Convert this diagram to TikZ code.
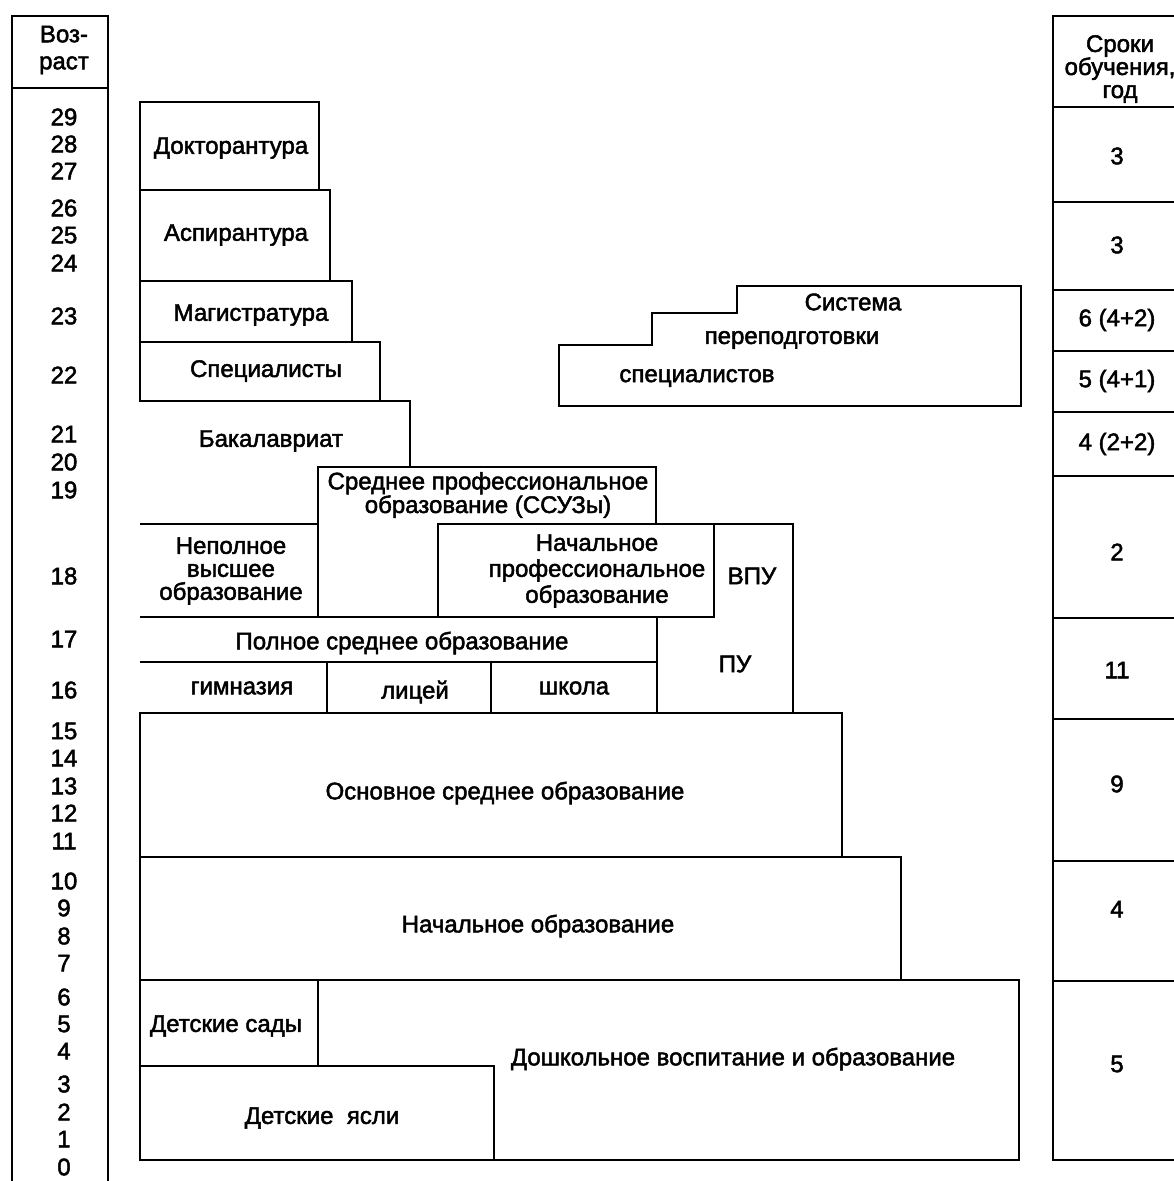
\documentclass[tikz,border=0pt]{standalone}
\usepackage{fontspec}
\setmainfont{Liberation Sans}[UprightFeatures={FakeBold=2}]
\usetikzlibrary{positioning}

\begin{document}
\begin{tikzpicture}[x=1pt, y=-1pt,
    frame/.style={line width=2.2pt, line join=miter},
    lbl/.style={font=\fontsize{24}{23}\selectfont, inner sep=0pt, align=center}
  ]
  \useasboundingbox (0,0) rectangle (1174,1181);
  \fill[white] (0,0) rectangle (1174,1181);

  % age column
  \draw[frame] (12,1195) -- (12,16) -- (108,16) -- (108,1195);
  \draw[frame] (12,88) -- (108,88);
  \node[lbl, font=\fontsize{24}{27}\selectfont] (agehead) at (64,50) {Воз-\\раст};
  \foreach \a/\y in {29/117,28/144,27/171,26/208,25/235,24/263,23/316,22/375,
                     21/434,20/462,19/490,18/576,17/639,16/690,15/731,14/758,
                     13/786,12/813,11/841,10/881,9/908,8/936,7/963,6/997,
                     5/1024,4/1051,3/1084,2/1112,1/1139,0/1167}
    \node[lbl] (age\a) at (64,\y) {\a};

  % higher education
  \draw[frame] (140,102) rectangle (319,190);
  \draw[frame] (140,190) rectangle (330,281);
  \draw[frame] (140,281) rectangle (352,342);
  \draw[frame] (140,342) rectangle (380,401);
  \draw[frame] (140,401) -- (410,401) -- (410,467);
  \draw[frame] (140,524) -- (318,524);
  \node[lbl] (doct) at (231,148) {Докторантура};
  \node[lbl] (asp)  at (236,235) {Аспирантура};
  \node[lbl] (mag)  at (251,315) {Магистратура};
  \node[lbl] (spec) at (266,371) {Специалисты};
  \node[lbl] (bak)  at (271,441) {Бакалавриат};
  \node[lbl] (nvo)  at (231,571) {Неполное\\высшее\\образование};

  % vocational education
  \draw[frame] (318,617) -- (318,467) -- (656,467) -- (656,524);
  \draw[frame] (438,524) rectangle (714,617);
  \draw[frame] (714,524) -- (793,524) -- (793,713);
  \draw[frame] (657,617) -- (657,713);
  \node[lbl, font=\fontsize{24}{20}\selectfont] (ssuz) at (488,495)
    {Среднее профессиональное\\образование (ССУЗы)};
  \node[lbl, font=\fontsize{24}{26}\selectfont] (npo) at (597,571)
    {Начальное\\профессиональное\\образование};
  \node[lbl] (vpu) at (752,576) {ВПУ};
  \node[lbl] (pu)  at (735,664) {ПУ};

  % secondary school
  \draw[frame] (140,617) -- (714,617);
  \draw[frame] (140,662) -- (657,662);
  \draw[frame] (327,662) -- (327,713);
  \draw[frame] (491,662) -- (491,713);
  \node[lbl] (full) at (402,643) {Полное среднее образование};
  \node[lbl] (gym)  at (242,688) {гимназия};
  \node[lbl] (lyc)  at (415,692) {лицей};
  \node[lbl] (sch)  at (574,688) {школа};
  \draw[frame] (140,713) rectangle (842,857);
  \node[lbl] (basic) at (505,793) {Основное среднее образование};
  \draw[frame] (140,857) rectangle (901,980);
  \node[lbl] (prim) at (538,926) {Начальное образование};

  % preschool
  \draw[frame] (140,980) rectangle (1019,1160);
  \draw[frame] (318,980) -- (318,1066);
  \draw[frame] (140,1066) -- (494,1066) -- (494,1160);
  \node[lbl] (kg)   at (226,1026) {Детские сады};
  \node[lbl] (nurs) at (322,1118) {Детские\ \ ясли};
  \node[lbl] (pre)  at (733,1059) {Дошкольное воспитание и образование};

  % retraining
  \draw[frame] (559,406) -- (559,345) -- (652,345) -- (652,313) -- (737,313)
    -- (737,286) -- (1021,286) -- (1021,406) -- cycle;
  \node[lbl] (sys1) at (853,302) {Система};
  \node[lbl] (sys2) at (792,340) {переподготовки};
  \node[lbl] (sys3) at (697,378) {специалистов};

  % duration column
  \draw[frame] (1195,16) -- (1053,16) -- (1053,1160) -- (1195,1160);
  \foreach \y in {107,202,290,351,412,476,618,719,861,981}
    \draw[frame] (1053,\y) -- (1195,\y);
  \node[lbl] (termhead) at (1120,69) {Сроки\\обучения,\\год};
  \foreach \t/\y [count=\i] in {3/156,3/245,{6 (4+2)}/320,{5 (4+1)}/381,
                                {4 (2+2)}/444,2/552,11/670,9/784,4/909,5/1064}
    \node[lbl] (term\i) at (1117,\y) {\t};
\end{tikzpicture}
\end{document}
